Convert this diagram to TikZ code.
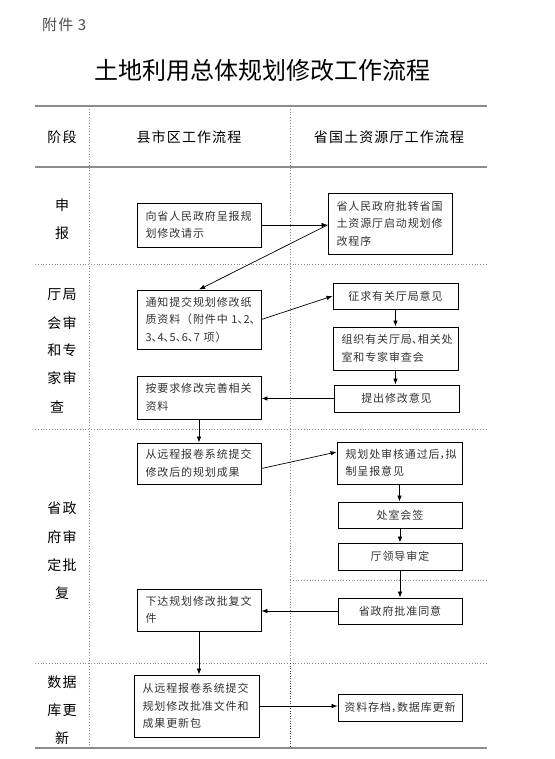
\documentclass[tikz,border=0pt]{standalone}
\usepackage{fontspec}
\setmainfont{Noto Sans CJK SC}
\newfontfamily\cjk{Noto Sans CJK SC}
\newfontfamily\boxfont[LetterSpace=8]{Noto Sans CJK SC}
\newfontfamily\stgfont[LetterSpace=8]{Noto Sans CJK SC}
\usetikzlibrary{arrows.meta}
\tikzset{
  solidrule/.style={draw=black!45, line width=1.1pt},
  dotrule/.style={draw=black!45, line width=0.8pt, dash pattern=on 0.8pt off 2pt},
  flowbox/.style={draw=black, line width=0.9pt, inner sep=0pt, text=black!80,
     font={\boxfont\fontsize{11}{17.5}\selectfont}},
  multibox/.style={flowbox, align=left},
  onebox/.style={flowbox, align=center},
  arr/.style={draw=black, line width=0.7pt, -{Latex[length=6pt,width=4.5pt]}},
  stage/.style={font={\stgfont\fontsize{14}{14}\selectfont}, text=black, inner sep=0pt},
  head/.style={font={\stgfont\fontsize{14}{14}\selectfont}, text=black, inner sep=0pt},
}
\newcommand{\hwl}[1]{\makebox[6pt][l]{#1}}
\newcommand{\hwr}[1]{\makebox[6pt][r]{#1}}
\newcommand{\mbx}[7]{%
  \node[#1, minimum width={#5-#3}, minimum height={#6-#4}] (#2) at ({(#3+#5)/2},{(#4+#6)/2}) {#7};}
\newcommand{\mbxt}[7]{%
  \node[#1, minimum width={#5-#3}, minimum height={#6-#4}, text width={#5-#3-17}] (#2) at ({(#3+#5)/2},{(#4+#6)/2}) {#7};}
\begin{document}
\begin{tikzpicture}[x=1pt,y=-1pt]
\useasboundingbox (0,0) rectangle (554,759);
\fill[white] (0,0) rectangle (554,759);

% titles
\node[anchor=west, inner sep=0pt, text=black!70, font={\stgfont\fontsize{15}{15}\selectfont}] (att) at (42,25) {附件 3};
\node[inner sep=0pt, font={\cjk\fontsize{24}{24}\selectfont}] (title) at (262,70) {土地利用总体规划修改工作流程};

% table rules
\draw[solidrule] (35,106) -- (487,106);
\draw[solidrule] (35,167) -- (487,167);
\draw[solidrule] (35,748) -- (487,748);
\draw[dotrule] (35,264) -- (487,264);
\draw[dotrule] (35,429) -- (487,429);
\draw[dotrule] (35,663) -- (487,663);
\draw[dotrule] (290,580) -- (487,580);
\draw[dotrule] (89,106) -- (89,748);
\draw[dotrule] (290,106) -- (290,663);
\draw[draw=black!75, line width=1pt, dash pattern=on 1pt off 1.5pt] (290,663) -- (290,748);

% headers
\node[head] (h1) at (62,137) {阶段};
\node[head] (h2) at (189,137) {县市区工作流程};
\node[head] (h3) at (389,137) {省国土资源厅工作流程};

% stage labels
\node[stage] (s1a) at (62,205) {申};
\node[stage] (s1b) at (62,233) {报};
\node[stage] (s2a) at (62,295) {厅局};
\node[stage] (s2b) at (62,323) {会审};
\node[stage] (s2c) at (62,350) {和专};
\node[stage] (s2d) at (62,378) {家审};
\node[stage] (s2e) at (57,407) {查};
\node[stage] (s3a) at (62,508) {省政};
\node[stage] (s3b) at (62,537) {府审};
\node[stage] (s3c) at (62,565) {定批};
\node[stage] (s3d) at (62,593) {复};
\node[stage] (s4a) at (62,682) {数据};
\node[stage] (s4b) at (62,710) {库更};
\node[stage] (s4c) at (62,738) {新};

% boxes
\mbxt{multibox}{b1}{137}{203}{261}{247}{向省人民政府呈报规\\划修改请示}
\mbxt{multibox}{b2}{328}{193}{452}{254}{省人民政府批转省国\\土资源厅启动规划修\\改程序}
\mbxt{multibox}{b3}{137}{290}{261}{349}{通知提交规划修改纸\\质资料（附件中~1\hwl{、}2\hwl{、}\\3\hwl{、}4\hwl{、}5\hwl{、}6\hwl{、}7~项）}
\mbx{onebox}{b4}{333}{283}{458}{309}{征求有关厅局意见}
\mbxt{multibox}{b5}{333}{327}{458}{370}{组织有关厅局\hwl{、}相关处\\室和专家审查会}
\mbx{onebox}{b6}{334}{385}{459}{412}{提出修改意见}
\mbxt{multibox}{b7}{137}{376}{261}{419}{按要求修改完善相关\\资料}
\mbxt{multibox}{b8}{137}{443}{261}{484}{从远程报卷系统提交\\修改后的规划成果}
\mbxt{multibox}{b9}{337}{442}{462}{484}{规划处审核通过后\hwl{，}拟\\制呈报意见}
\mbx{onebox}{b10}{338}{502}{462}{528}{处室会签}
\mbx{onebox}{b11}{338}{543}{462}{570}{厅领导审定}
\mbx{onebox}{b12}{338}{598}{462}{624}{省政府批准同意}
\mbxt{multibox}{b13}{137}{589}{261}{631}{下达规划修改批复文\\件}
\mbxt{multibox}{b14}{134}{675}{259}{737}{从远程报卷系统提交\\规划修改批准文件和\\成果更新包}
\mbx{onebox}{b15}{338}{694}{462}{721}{资料存档\hwl{，}数据库更新}

% connectors
\coordinate (j1) at (b2.west |- b1.east);
\draw[arr] (b1.east) -- (j1);
\draw[arr] (j1) -- (b3.north);
\draw[arr] (b3.east) -- (b4.west);
\draw[arr] (b4.south) -- (b4.south |- b5.north);
\draw[arr] (b5.south) -- (b5.south |- b6.north);
\draw[arr] (b6.west) -- (b6.west -| b7.east);
\draw[arr] (b7.south) -- (b7.south |- b8.north);
\draw[arr] ([yshift=-5pt]b8.east) -- ([yshift=11pt]b9.west);
\draw[arr] (b9.south) -- (b9.south |- b10.north);
\draw[arr] (b10.south) -- (b10.south |- b11.north);
\draw[arr] (b11.south) -- (b11.south |- b12.north);
\draw[arr] (b12.west) -- (b12.west -| b13.east);
\draw[arr] (b13.south) -- (b13.south |- b14.north);
\draw[arr] (b14.east) -- (b14.east -| b15.west);
\end{tikzpicture}
\end{document}
